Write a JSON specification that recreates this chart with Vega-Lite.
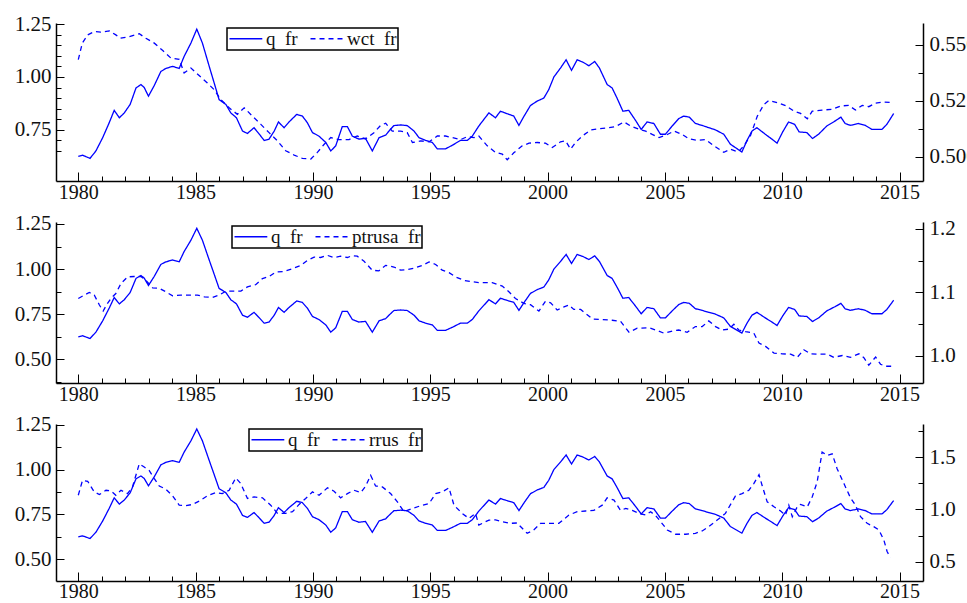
{
  "$schema": "https://vega.github.io/schema/vega-lite/v6.json",
  "background": "white",
  "padding": {"left": 14, "top": 13, "right": 0, "bottom": 0},
  "datasets": {
    "q": [
      {"t":1980.00,"v":0.624},{"t":1980.18,"v":0.630},{"t":1980.50,"v":0.615},{"t":1980.75,"v":0.650},{"t":1981.04,"v":0.713},{"t":1981.32,"v":0.784},{"t":1981.53,"v":0.842},{"t":1981.75,"v":0.807},{"t":1981.96,"v":0.830},{"t":1982.21,"v":0.870},{"t":1982.46,"v":0.948},{"t":1982.67,"v":0.964},{"t":1982.81,"v":0.950},{"t":1982.99,"v":0.909},{"t":1983.24,"v":0.960},{"t":1983.52,"v":1.026},{"t":1983.73,"v":1.040},{"t":1984.02,"v":1.050},{"t":1984.30,"v":1.040},{"t":1984.51,"v":1.097},{"t":1984.80,"v":1.160},{"t":1985.05,"v":1.226},{"t":1985.29,"v":1.160},{"t":1985.58,"v":1.050},{"t":1985.79,"v":0.972},{"t":1986.00,"v":0.893},{"t":1986.29,"v":0.870},{"t":1986.50,"v":0.830},{"t":1986.74,"v":0.807},{"t":1987.00,"v":0.744},{"t":1987.21,"v":0.733},{"t":1987.49,"v":0.760},{"t":1987.71,"v":0.730},{"t":1987.92,"v":0.700},{"t":1988.13,"v":0.706},{"t":1988.35,"v":0.744},{"t":1988.53,"v":0.787},{"t":1988.77,"v":0.760},{"t":1988.98,"v":0.787},{"t":1989.31,"v":0.823},{"t":1989.55,"v":0.815},{"t":1989.76,"v":0.784},{"t":1989.98,"v":0.737},{"t":1990.26,"v":0.720},{"t":1990.55,"v":0.690},{"t":1990.76,"v":0.650},{"t":1990.97,"v":0.674},{"t":1991.25,"v":0.765},{"t":1991.47,"v":0.765},{"t":1991.68,"v":0.720},{"t":1991.96,"v":0.706},{"t":1992.24,"v":0.710},{"t":1992.53,"v":0.650},{"t":1992.82,"v":0.713},{"t":1993.10,"v":0.725},{"t":1993.24,"v":0.744},{"t":1993.45,"v":0.770},{"t":1993.74,"v":0.773},{"t":1994.02,"v":0.770},{"t":1994.31,"v":0.744},{"t":1994.52,"v":0.713},{"t":1994.80,"v":0.700},{"t":1995.09,"v":0.690},{"t":1995.30,"v":0.660},{"t":1995.65,"v":0.660},{"t":1995.94,"v":0.677},{"t":1996.29,"v":0.700},{"t":1996.58,"v":0.700},{"t":1996.79,"v":0.720},{"t":1997.07,"v":0.768},{"t":1997.50,"v":0.830},{"t":1997.78,"v":0.807},{"t":1997.99,"v":0.838},{"t":1998.28,"v":0.826},{"t":1998.56,"v":0.815},{"t":1998.78,"v":0.771},{"t":1998.99,"v":0.813},{"t":1999.27,"v":0.865},{"t":1999.56,"v":0.886},{"t":1999.84,"v":0.900},{"t":2000.05,"v":0.940},{"t":2000.27,"v":1.000},{"t":2000.55,"v":1.042},{"t":2000.79,"v":1.081},{"t":2001.02,"v":1.031},{"t":2001.26,"v":1.081},{"t":2001.50,"v":1.070},{"t":2001.76,"v":1.053},{"t":2002.01,"v":1.073},{"t":2002.21,"v":1.042},{"t":2002.54,"v":0.964},{"t":2002.75,"v":0.948},{"t":2002.96,"v":0.900},{"t":2003.21,"v":0.838},{"t":2003.46,"v":0.842},{"t":2003.74,"v":0.796},{"t":2003.99,"v":0.752},{"t":2004.24,"v":0.787},{"t":2004.53,"v":0.780},{"t":2004.81,"v":0.729},{"t":2005.02,"v":0.729},{"t":2005.31,"v":0.768},{"t":2005.59,"v":0.803},{"t":2005.80,"v":0.815},{"t":2006.04,"v":0.810},{"t":2006.30,"v":0.780},{"t":2006.58,"v":0.771},{"t":2006.87,"v":0.760},{"t":2007.15,"v":0.750},{"t":2007.51,"v":0.729},{"t":2007.79,"v":0.682},{"t":2008.07,"v":0.661},{"t":2008.28,"v":0.645},{"t":2008.50,"v":0.700},{"t":2008.71,"v":0.744},{"t":2008.92,"v":0.760},{"t":2009.28,"v":0.729},{"t":2009.56,"v":0.706},{"t":2009.78,"v":0.687},{"t":2010.02,"v":0.740},{"t":2010.27,"v":0.787},{"t":2010.53,"v":0.776},{"t":2010.72,"v":0.740},{"t":2011.05,"v":0.737},{"t":2011.29,"v":0.709},{"t":2011.55,"v":0.729},{"t":2011.90,"v":0.768},{"t":2012.26,"v":0.792},{"t":2012.50,"v":0.810},{"t":2012.68,"v":0.780},{"t":2012.90,"v":0.771},{"t":2013.25,"v":0.780},{"t":2013.54,"v":0.771},{"t":2013.82,"v":0.752},{"t":2014.25,"v":0.752},{"t":2014.46,"v":0.776},{"t":2014.75,"v":0.827}
    ],
    "wct": [
      {"t":1980.00,"v":0.5434},{"t":1980.17,"v":0.5508},{"t":1980.40,"v":0.5545},{"t":1980.68,"v":0.5560},{"t":1980.96,"v":0.5557},{"t":1981.32,"v":0.5563},{"t":1981.60,"v":0.5545},{"t":1981.80,"v":0.5530},{"t":1982.17,"v":0.5537},{"t":1982.60,"v":0.5550},{"t":1982.88,"v":0.5530},{"t":1983.24,"v":0.5508},{"t":1983.60,"v":0.5475},{"t":1983.95,"v":0.5441},{"t":1984.30,"v":0.5436},{"t":1984.51,"v":0.5375},{"t":1984.80,"v":0.5397},{"t":1985.15,"v":0.5363},{"t":1985.50,"v":0.5330},{"t":1985.79,"v":0.5300},{"t":1986.07,"v":0.5256},{"t":1986.43,"v":0.5219},{"t":1986.78,"v":0.5190},{"t":1987.07,"v":0.5219},{"t":1987.42,"v":0.5182},{"t":1987.78,"v":0.5145},{"t":1988.13,"v":0.5108},{"t":1988.49,"v":0.5071},{"t":1988.84,"v":0.5027},{"t":1989.20,"v":0.5008},{"t":1989.55,"v":0.4993},{"t":1989.91,"v":0.4990},{"t":1990.19,"v":0.5020},{"t":1990.48,"v":0.5056},{"t":1990.76,"v":0.5086},{"t":1991.11,"v":0.5077},{"t":1991.54,"v":0.5077},{"t":1991.89,"v":0.5093},{"t":1992.24,"v":0.5080},{"t":1992.60,"v":0.5108},{"t":1992.89,"v":0.5141},{"t":1993.10,"v":0.5150},{"t":1993.38,"v":0.5115},{"t":1993.74,"v":0.5115},{"t":1994.02,"v":0.5108},{"t":1994.24,"v":0.5064},{"t":1994.59,"v":0.5071},{"t":1994.95,"v":0.5067},{"t":1995.30,"v":0.5093},{"t":1995.65,"v":0.5093},{"t":1995.94,"v":0.5086},{"t":1996.29,"v":0.5077},{"t":1996.58,"v":0.5090},{"t":1996.87,"v":0.5086},{"t":1997.07,"v":0.5093},{"t":1997.43,"v":0.5049},{"t":1997.78,"v":0.5020},{"t":1998.07,"v":0.5012},{"t":1998.28,"v":0.4987},{"t":1998.56,"v":0.5018},{"t":1998.92,"v":0.5049},{"t":1999.21,"v":0.5061},{"t":1999.56,"v":0.5064},{"t":1999.91,"v":0.5061},{"t":2000.20,"v":0.5042},{"t":2000.55,"v":0.5067},{"t":2000.77,"v":0.5071},{"t":2000.98,"v":0.5034},{"t":2001.19,"v":0.5064},{"t":2001.48,"v":0.5093},{"t":2001.84,"v":0.5120},{"t":2002.19,"v":0.5126},{"t":2002.62,"v":0.5130},{"t":2002.90,"v":0.5135},{"t":2003.26,"v":0.5156},{"t":2003.54,"v":0.5138},{"t":2003.90,"v":0.5123},{"t":2004.18,"v":0.5115},{"t":2004.46,"v":0.5100},{"t":2004.75,"v":0.5086},{"t":2005.03,"v":0.5096},{"t":2005.39,"v":0.5115},{"t":2005.74,"v":0.5100},{"t":2006.03,"v":0.5080},{"t":2006.38,"v":0.5074},{"t":2006.74,"v":0.5077},{"t":2007.09,"v":0.5049},{"t":2007.51,"v":0.5020},{"t":2007.80,"v":0.5034},{"t":2008.12,"v":0.5022},{"t":2008.37,"v":0.5049},{"t":2008.65,"v":0.5096},{"t":2008.94,"v":0.5182},{"t":2009.22,"v":0.5234},{"t":2009.43,"v":0.5252},{"t":2009.79,"v":0.5242},{"t":2010.14,"v":0.5229},{"t":2010.50,"v":0.5204},{"t":2010.78,"v":0.5194},{"t":2011.07,"v":0.5170},{"t":2011.28,"v":0.5204},{"t":2011.70,"v":0.5209},{"t":2012.13,"v":0.5212},{"t":2012.48,"v":0.5227},{"t":2012.84,"v":0.5230},{"t":2013.12,"v":0.5209},{"t":2013.41,"v":0.5230},{"t":2013.69,"v":0.5224},{"t":2013.98,"v":0.5240},{"t":2014.33,"v":0.5245},{"t":2014.69,"v":0.5242}
    ],
    "ptrusa": [
      {"t":1980.00,"v":1.0904},{"t":1980.25,"v":1.0956},{"t":1980.47,"v":1.0998},{"t":1980.68,"v":1.0960},{"t":1980.90,"v":1.0800},{"t":1981.06,"v":1.0705},{"t":1981.20,"v":1.0800},{"t":1981.39,"v":1.0904},{"t":1981.60,"v":1.0982},{"t":1981.82,"v":1.1140},{"t":1982.10,"v":1.1244},{"t":1982.38,"v":1.1250},{"t":1982.67,"v":1.1250},{"t":1982.88,"v":1.1190},{"t":1983.17,"v":1.1070},{"t":1983.45,"v":1.1065},{"t":1983.73,"v":1.1009},{"t":1984.02,"v":1.0946},{"t":1984.37,"v":1.0957},{"t":1984.73,"v":1.0957},{"t":1985.08,"v":1.0957},{"t":1985.37,"v":1.0930},{"t":1985.72,"v":1.0920},{"t":1986.00,"v":1.0957},{"t":1986.29,"v":1.1019},{"t":1986.64,"v":1.1019},{"t":1986.93,"v":1.1020},{"t":1987.21,"v":1.1087},{"t":1987.56,"v":1.1120},{"t":1987.85,"v":1.1218},{"t":1988.13,"v":1.1250},{"t":1988.42,"v":1.1322},{"t":1988.77,"v":1.1330},{"t":1989.13,"v":1.1374},{"t":1989.48,"v":1.1426},{"t":1989.76,"v":1.1504},{"t":1990.05,"v":1.1557},{"t":1990.33,"v":1.1550},{"t":1990.62,"v":1.1583},{"t":1990.90,"v":1.1550},{"t":1991.18,"v":1.1570},{"t":1991.47,"v":1.1550},{"t":1991.68,"v":1.1580},{"t":1991.89,"v":1.1570},{"t":1992.18,"v":1.1490},{"t":1992.53,"v":1.1348},{"t":1992.81,"v":1.1340},{"t":1993.10,"v":1.1426},{"t":1993.45,"v":1.1400},{"t":1993.74,"v":1.1350},{"t":1994.02,"v":1.1360},{"t":1994.31,"v":1.1380},{"t":1994.66,"v":1.1426},{"t":1994.95,"v":1.1480},{"t":1995.23,"v":1.1440},{"t":1995.51,"v":1.1350},{"t":1995.80,"v":1.1312},{"t":1996.08,"v":1.1244},{"t":1996.43,"v":1.1190},{"t":1996.72,"v":1.1170},{"t":1997.07,"v":1.1155},{"t":1997.64,"v":1.1155},{"t":1998.07,"v":1.1100},{"t":1998.35,"v":1.1010},{"t":1998.63,"v":1.0904},{"t":1998.99,"v":1.0826},{"t":1999.27,"v":1.0805},{"t":1999.63,"v":1.0705},{"t":1999.91,"v":1.0860},{"t":2000.13,"v":1.0836},{"t":2000.41,"v":1.0721},{"t":2000.70,"v":1.0770},{"t":2000.91,"v":1.0800},{"t":2001.12,"v":1.0730},{"t":2001.41,"v":1.0730},{"t":2001.62,"v":1.0669},{"t":2001.91,"v":1.0580},{"t":2002.33,"v":1.0570},{"t":2002.75,"v":1.0560},{"t":2003.11,"v":1.0543},{"t":2003.47,"v":1.0371},{"t":2003.82,"v":1.0434},{"t":2004.32,"v":1.0443},{"t":2004.61,"v":1.0406},{"t":2004.96,"v":1.0356},{"t":2005.31,"v":1.0390},{"t":2005.59,"v":1.0406},{"t":2005.95,"v":1.0370},{"t":2006.30,"v":1.0460},{"t":2006.59,"v":1.0460},{"t":2006.87,"v":1.0549},{"t":2007.16,"v":1.0460},{"t":2007.44,"v":1.0406},{"t":2007.73,"v":1.0420},{"t":2007.94,"v":1.0497},{"t":2008.15,"v":1.0406},{"t":2008.44,"v":1.0380},{"t":2008.79,"v":1.0356},{"t":2009.01,"v":1.0199},{"t":2009.29,"v":1.0147},{"t":2009.65,"v":1.0042},{"t":2010.00,"v":1.0030},{"t":2010.36,"v":1.0025},{"t":2010.64,"v":0.9975},{"t":2010.92,"v":1.0094},{"t":2011.21,"v":1.0030},{"t":2011.56,"v":1.0025},{"t":2011.92,"v":1.0025},{"t":2012.20,"v":0.9975},{"t":2012.56,"v":1.0004},{"t":2012.91,"v":0.9975},{"t":2013.27,"v":1.0030},{"t":2013.48,"v":0.9970},{"t":2013.69,"v":0.9850},{"t":2013.98,"v":0.9980},{"t":2014.19,"v":0.9866},{"t":2014.40,"v":0.9834},{"t":2014.69,"v":0.9834}
    ],
    "rrus": [
      {"t":1980.00,"v":1.136},{"t":1980.18,"v":1.279},{"t":1980.40,"v":1.270},{"t":1980.68,"v":1.168},{"t":1980.90,"v":1.143},{"t":1981.18,"v":1.184},{"t":1981.39,"v":1.178},{"t":1981.60,"v":1.136},{"t":1981.82,"v":1.184},{"t":1982.10,"v":1.152},{"t":1982.31,"v":1.216},{"t":1982.60,"v":1.438},{"t":1982.81,"v":1.406},{"t":1983.02,"v":1.374},{"t":1983.24,"v":1.295},{"t":1983.45,"v":1.225},{"t":1983.73,"v":1.194},{"t":1984.02,"v":1.130},{"t":1984.30,"v":1.041},{"t":1984.58,"v":1.035},{"t":1984.87,"v":1.048},{"t":1985.15,"v":1.079},{"t":1985.50,"v":1.130},{"t":1985.86,"v":1.162},{"t":1986.14,"v":1.152},{"t":1986.43,"v":1.184},{"t":1986.71,"v":1.302},{"t":1986.92,"v":1.250},{"t":1987.21,"v":1.105},{"t":1987.49,"v":1.120},{"t":1987.85,"v":1.111},{"t":1988.20,"v":1.041},{"t":1988.49,"v":0.962},{"t":1988.84,"v":0.962},{"t":1989.13,"v":0.978},{"t":1989.41,"v":1.048},{"t":1989.69,"v":1.105},{"t":1989.98,"v":1.168},{"t":1990.26,"v":1.136},{"t":1990.62,"v":1.207},{"t":1990.90,"v":1.175},{"t":1991.18,"v":1.111},{"t":1991.47,"v":1.152},{"t":1991.75,"v":1.184},{"t":1992.04,"v":1.162},{"t":1992.25,"v":1.225},{"t":1992.46,"v":1.327},{"t":1992.67,"v":1.225},{"t":1992.96,"v":1.216},{"t":1993.31,"v":1.152},{"t":1993.60,"v":1.073},{"t":1993.88,"v":0.978},{"t":1994.24,"v":1.010},{"t":1994.59,"v":1.035},{"t":1994.95,"v":1.057},{"t":1995.23,"v":1.152},{"t":1995.51,"v":1.168},{"t":1995.80,"v":1.207},{"t":1996.01,"v":1.041},{"t":1996.36,"v":0.962},{"t":1996.65,"v":0.914},{"t":1996.93,"v":0.962},{"t":1997.07,"v":0.850},{"t":1997.50,"v":0.898},{"t":1997.78,"v":0.900},{"t":1998.07,"v":0.883},{"t":1998.42,"v":0.867},{"t":1998.70,"v":0.870},{"t":1998.92,"v":0.819},{"t":1999.13,"v":0.771},{"t":1999.41,"v":0.803},{"t":1999.70,"v":0.867},{"t":2000.13,"v":0.867},{"t":2000.48,"v":0.867},{"t":2000.91,"v":0.946},{"t":2001.26,"v":0.978},{"t":2001.62,"v":0.985},{"t":2001.97,"v":0.990},{"t":2002.33,"v":1.041},{"t":2002.54,"v":1.111},{"t":2002.83,"v":1.090},{"t":2003.11,"v":0.990},{"t":2003.33,"v":1.010},{"t":2003.61,"v":0.990},{"t":2003.90,"v":0.962},{"t":2004.18,"v":0.946},{"t":2004.39,"v":0.978},{"t":2004.61,"v":0.940},{"t":2004.82,"v":0.883},{"t":2005.10,"v":0.803},{"t":2005.46,"v":0.762},{"t":2005.89,"v":0.762},{"t":2006.30,"v":0.771},{"t":2006.59,"v":0.794},{"t":2006.87,"v":0.835},{"t":2007.23,"v":0.898},{"t":2007.58,"v":0.962},{"t":2007.80,"v":1.048},{"t":2008.01,"v":1.130},{"t":2008.29,"v":1.152},{"t":2008.58,"v":1.184},{"t":2008.79,"v":1.248},{"t":2009.01,"v":1.333},{"t":2009.15,"v":1.225},{"t":2009.36,"v":1.073},{"t":2009.65,"v":1.025},{"t":2009.93,"v":0.985},{"t":2010.14,"v":0.946},{"t":2010.28,"v":1.041},{"t":2010.43,"v":0.930},{"t":2010.64,"v":1.025},{"t":2010.78,"v":1.048},{"t":2011.07,"v":1.025},{"t":2011.28,"v":1.121},{"t":2011.49,"v":1.264},{"t":2011.70,"v":1.549},{"t":2011.92,"v":1.518},{"t":2012.13,"v":1.533},{"t":2012.34,"v":1.390},{"t":2012.63,"v":1.248},{"t":2012.91,"v":1.111},{"t":2013.12,"v":1.041},{"t":2013.34,"v":0.930},{"t":2013.62,"v":0.867},{"t":2013.90,"v":0.835},{"t":2014.12,"v":0.803},{"t":2014.33,"v":0.708},{"t":2014.47,"v":0.597},{"t":2014.61,"v":0.540}
    ]
  },
  "vconcat": [
    {
      "width": 867, "height": 158,
      "encoding": {
        "x": {"field": "t", "type": "quantitative", "scale": {"domain": [1979.05, 2016], "nice": false, "zero": false},
          "axis": {"title": null, "values": [1980,1981,1982,1983,1984,1985,1986,1987,1988,1989,1990,1991,1992,1993,1994,1995,1996,1997,1998,1999,2000,2001,2002,2003,2004,2005,2006,2007,2008,2009,2010,2011,2012,2013,2014,2015], "format": "d",
            "labelExpr": "datum.value % 5 === 0 ? datum.label : ''",
            "tickSize": {"condition": {"test": "datum.value % 5 === 0", "value": -9}, "value": -5},
            "labelPadding": 10, "labelFontSize": 20}}
      },
      "layer": [
        {"data": {"name": "q"}, "mark": {"type": "line", "color": "#0000ff", "strokeWidth": 1.3},
          "encoding": {
            "y": {"field": "v", "type": "quantitative", "scale": {"domain": [0.508, 1.255], "nice": false, "zero": false},
              "axis": {"orient": "left", "title": null, "values": [0.65,0.7,0.75,0.8,0.85,0.9,0.95,1.0,1.05,1.1,1.15,1.2,1.25], "format": ".2f",
                "labelExpr": "abs(datum.value*4 - round(datum.value*4)) < 0.000001 ? datum.label : ''",
                "tickSize": {"condition": {"test": "abs(datum.value*4 - round(datum.value*4)) < 0.000001", "value": -8}, "value": -5},
                "labelPadding": 13}},
            "strokeDash": {"datum": "q\u2002fr", "type": "nominal",
              "scale": {"domain": ["q\u2002fr", "wct\u2002fr"], "range": [[1, 0], [5, 4]]},
              "legend": {"title": null, "orient": "none", "legendX": 171, "legendY": 5, "direction": "horizontal", "symbolType": "M-1,0H3.1", "symbolSize": 256, "symbolStrokeWidth": 1.3, "symbolStrokeColor": "#0000ff", "symbolFillColor": "transparent", "labelFontSize": 19, "labelOffset": 19, "columnPadding": 9, "padding": 1, "strokeColor": "black", "fillColor": "white"}}
          }},
        {"data": {"name": "wct"}, "mark": {"type": "line", "color": "#0000ff", "strokeWidth": 1.3},
          "encoding": {
            "y": {"field": "v", "type": "quantitative", "scale": {"domain": [0.4892, 0.5598], "nice": false, "zero": false},
              "axis": {"orient": "right", "title": null, "values": [0.5, 0.5125, 0.525, 0.5375, 0.55], "format": ".3f",
                "labelExpr": "abs(datum.value*40 - round(datum.value*40)) < 0.000001 ? datum.label : ''",
                "tickSize": {"condition": {"test": "abs(datum.value*40 - round(datum.value*40)) < 0.000001", "value": -8}, "value": -5},
                "labelPadding": 14}},
            "strokeDash": {"datum": "wct\u2002fr", "type": "nominal"}
          }}
      ],
      "resolve": {"scale": {"y": "independent"}}
    },
    {
      "width": 867, "height": 161,
      "encoding": {
        "x": {"field": "t", "type": "quantitative", "scale": {"domain": [1979.05, 2016], "nice": false, "zero": false},
          "axis": {"title": null, "values": [1980,1981,1982,1983,1984,1985,1986,1987,1988,1989,1990,1991,1992,1993,1994,1995,1996,1997,1998,1999,2000,2001,2002,2003,2004,2005,2006,2007,2008,2009,2010,2011,2012,2013,2014,2015], "format": "d",
            "labelExpr": "datum.value % 5 === 0 ? datum.label : ''",
            "tickSize": {"condition": {"test": "datum.value % 5 === 0", "value": -9}, "value": -5},
            "labelPadding": 10, "labelFontSize": 20}}
      },
      "layer": [
        {"data": {"name": "q"}, "mark": {"type": "line", "color": "#0000ff", "strokeWidth": 1.3},
          "encoding": {
            "y": {"field": "v", "type": "quantitative", "scale": {"domain": [0.368, 1.261], "nice": false, "zero": false},
              "axis": {"orient": "left", "title": null, "values": [0.375,0.5,0.625,0.75,0.875,1.0,1.125,1.25], "format": ".2f",
                "labelExpr": "abs(datum.value*4 - round(datum.value*4)) < 0.000001 ? datum.label : ''",
                "tickSize": {"condition": {"test": "abs(datum.value*4 - round(datum.value*4)) < 0.000001", "value": -8}, "value": -5},
                "labelPadding": 13}},
            "strokeDash": {"datum": "q\u2002fr", "type": "nominal",
              "scale": {"domain": ["q\u2002fr", "ptrusa\u2002fr"], "range": [[1, 0], [5, 4]]},
              "legend": {"title": null, "orient": "none", "legendX": 176, "legendY": 4, "direction": "horizontal", "symbolType": "M-1,0H3.1", "symbolSize": 256, "symbolStrokeWidth": 1.3, "symbolStrokeColor": "#0000ff", "symbolFillColor": "transparent", "labelFontSize": 19, "labelOffset": 19, "columnPadding": 9, "padding": 1, "strokeColor": "black", "fillColor": "white"}}
          }},
        {"data": {"name": "ptrusa"}, "mark": {"type": "line", "color": "#0000ff", "strokeWidth": 1.3},
          "encoding": {
            "y": {"field": "v", "type": "quantitative", "scale": {"domain": [0.957, 1.211], "nice": false, "zero": false},
              "axis": {"orient": "right", "title": null, "values": [1.0, 1.05, 1.1, 1.15, 1.2], "format": ".1f",
                "labelExpr": "abs(datum.value*10 - round(datum.value*10)) < 0.000001 ? datum.label : ''",
                "tickSize": {"condition": {"test": "abs(datum.value*10 - round(datum.value*10)) < 0.000001", "value": -8}, "value": -5},
                "labelPadding": 14}},
            "strokeDash": {"datum": "ptrusa\u2002fr", "type": "nominal"}
          }}
      ],
      "resolve": {"scale": {"y": "independent"}}
    },
    {
      "width": 867, "height": 157,
      "encoding": {
        "x": {"field": "t", "type": "quantitative", "scale": {"domain": [1979.05, 2016], "nice": false, "zero": false},
          "axis": {"title": null, "values": [1980,1981,1982,1983,1984,1985,1986,1987,1988,1989,1990,1991,1992,1993,1994,1995,1996,1997,1998,1999,2000,2001,2002,2003,2004,2005,2006,2007,2008,2009,2010,2011,2012,2013,2014,2015], "format": "d",
            "labelExpr": "datum.value % 5 === 0 ? datum.label : ''",
            "tickSize": {"condition": {"test": "datum.value % 5 === 0", "value": -9}, "value": -5},
            "labelPadding": 9, "labelFontSize": 20}}
      },
      "layer": [
        {"data": {"name": "q"}, "mark": {"type": "line", "color": "#0000ff", "strokeWidth": 1.3},
          "encoding": {
            "y": {"field": "v", "type": "quantitative", "scale": {"domain": [0.378, 1.254], "nice": false, "zero": false},
              "axis": {"orient": "left", "title": null, "values": [0.5,0.625,0.75,0.875,1.0,1.125,1.25], "format": ".2f",
                "labelExpr": "abs(datum.value*4 - round(datum.value*4)) < 0.000001 ? datum.label : ''",
                "tickSize": {"condition": {"test": "abs(datum.value*4 - round(datum.value*4)) < 0.000001", "value": -8}, "value": -5},
                "labelPadding": 13}},
            "strokeDash": {"datum": "q\u2002fr", "type": "nominal",
              "scale": {"domain": ["q\u2002fr", "rrus\u2002fr"], "range": [[1, 0], [5, 4]]},
              "legend": {"title": null, "orient": "none", "legendX": 193, "legendY": 5, "direction": "horizontal", "symbolType": "M-1,0H3.1", "symbolSize": 256, "symbolStrokeWidth": 1.3, "symbolStrokeColor": "#0000ff", "symbolFillColor": "transparent", "labelFontSize": 19, "labelOffset": 19, "columnPadding": 9, "padding": 1, "strokeColor": "black", "fillColor": "white"}}
          }},
        {"data": {"name": "rrus"}, "mark": {"type": "line", "color": "#0000ff", "strokeWidth": 1.3},
          "encoding": {
            "y": {"field": "v", "type": "quantitative", "scale": {"domain": [0.314, 1.819], "nice": false, "zero": false},
              "axis": {"orient": "right", "title": null, "values": [0.5, 0.75, 1.0, 1.25, 1.5, 1.75], "format": ".1f",
                "labelExpr": "abs(datum.value*2 - round(datum.value*2)) < 0.000001 ? datum.label : ''",
                "tickSize": {"condition": {"test": "abs(datum.value*2 - round(datum.value*2)) < 0.000001", "value": -8}, "value": -5},
                "labelPadding": 14}},
            "strokeDash": {"datum": "rrus\u2002fr", "type": "nominal"}
          }}
      ],
      "resolve": {"scale": {"y": "independent"}}
    }
  ],
  "spacing": 41,
  "bounds": "flush",
  "resolve": {"scale": {"strokeDash": "independent"}, "legend": {"strokeDash": "independent"}},
  "config": {
    "view": {"stroke": null},
    "font": "Liberation Serif, Times New Roman, serif",
    "axis": {"labelFont": "Liberation Serif, Times New Roman, serif", "labelFontSize": 21, "labelColor": "#111111", "domainColor": "#000000", "domainWidth": 1.5, "tickColor": "#000000", "tickWidth": 1, "grid": false, "labelOverlap": false, "labelFlush": false, "labelBound": false},
    "legend": {"labelFont": "Liberation Serif, Times New Roman, serif", "labelColor": "#111111", "strokeWidth": 1.5}
  }
}
